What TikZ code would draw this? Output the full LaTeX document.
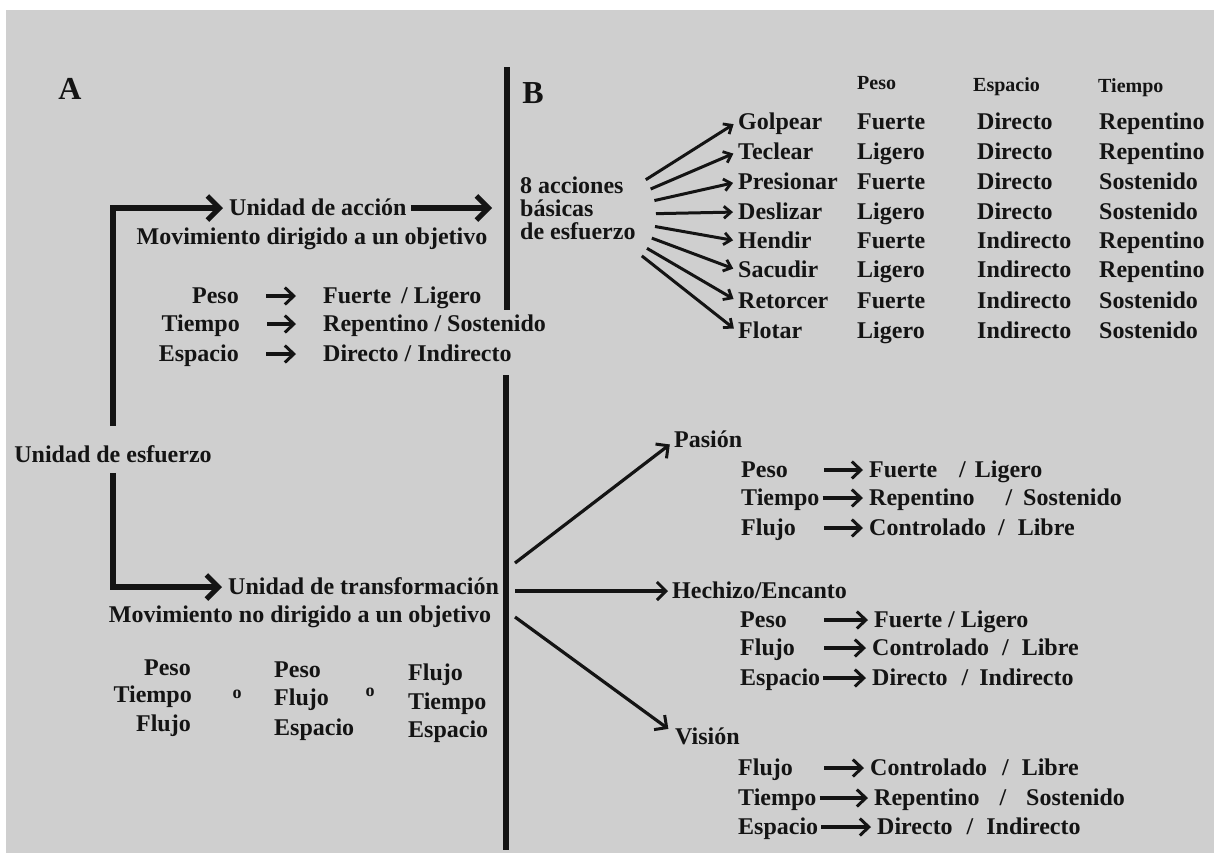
\documentclass[tikz,border=0pt]{standalone}
\usepackage{fontspec}
\setmainfont{Liberation Serif}
\usetikzlibrary{arrows.meta,calc}
\definecolor{paper}{HTML}{CFCFCF}
\definecolor{ink}{HTML}{141414}
\begin{document}
\begin{tikzpicture}[x=1pt,y=-1pt,
  lbl/.style={font=\fontsize{24}{23}\selectfont\bfseries, text=ink, inner sep=1pt, yshift=-5pt},
  hdr/.style={font=\fontsize{20}{22}\selectfont\bfseries, text=ink, inner sep=1pt, yshift=-5pt},
  letter/.style={font=\fontsize{32}{34}\selectfont\bfseries, text=ink, inner sep=0pt},
  orw/.style={font=\fontsize{18}{20}\selectfont\bfseries, text=ink, inner sep=0pt, yshift=-2pt},
  lift/.style={transform canvas={yshift=5pt}},
  bar/.style={line width=6pt, draw=ink},
  thickarr/.style={draw=ink, line width=5.5pt, -{Straight Barb[length=12pt,width=24pt,line width=5pt]}},
  fanarr/.style={draw=ink, line width=3pt, -{Straight Barb[length=7pt,width=12pt,line width=2.8pt]}, shorten >=4pt},
  branch/.style={draw=ink, line width=3.2pt, -{Straight Barb[length=9pt,width=18pt,line width=3pt]}},
  rowarr/.style={draw=ink, line width=3.2pt, -{Straight Barb[length=9pt,width=17pt,line width=3pt]}},
]
% sheet
\fill[white] (0,0) rectangle (1214,855);
\fill[paper] (6,10) rectangle (1214,853);
\useasboundingbox (0,0) rectangle (1214,855);

% dividing bars
\coordinate (barAtop) at (507,67);
\coordinate (barAbot) at (507,310);
\coordinate (barBtop) at (506,375);
\coordinate (barBbot) at (506,850);
\draw[bar] (barAtop) -- (barAbot);
\draw[bar] (barBtop) -- (barBbot);

% ---------------- part A ----------------
\node[letter] (A) at (70,89) {A};
\node[lbl, anchor=mid] (esf) at (113,455) {Unidad de esfuerzo};

\node[lbl, anchor=mid west] (accion) at (228,208) {Unidad de acción};
\node[lbl, anchor=mid] (movA) at (312,237) {Movimiento dirigido a un objetivo};

\draw[thickarr, lift, shorten <=13pt, shorten >=5pt] (esf.north) |- (accion.mid west);
\draw[thickarr, lift, shorten <=3pt, shorten >=15pt] (accion.mid east) -- (accion.mid east -| barAtop);

\node[lbl, anchor=mid east] (aL1) at (240,296) {Peso};
\node[lbl, anchor=mid east] (aL2) at (241,324) {Tiempo};
\node[lbl, anchor=mid east] (aL3) at (240,354) {Espacio};
\node[lbl, anchor=mid west] (aV1) at (322,296) {Fuerte\hspace{10pt}/\hspace{6pt}Ligero};
\node[lbl, anchor=mid west] (aV2) at (322,324) {Repentino / Sostenido};
\node[lbl, anchor=mid west] (aV3) at (322,354) {Directo / Indirecto};
\foreach \i in {1,2,3}
  \draw[rowarr, lift, shorten <=26pt, shorten >=26pt] (aL\i.mid east) -- (aV\i.mid west);

\node[lbl, anchor=mid west] (transf) at (227,587) {Unidad de transformación};
\node[lbl, anchor=mid] (movT) at (300,615) {Movimiento no dirigido a un objetivo};
\draw[thickarr, lift, shorten <=14pt, shorten >=5pt] (esf.south) |- (transf.mid west);

% three possible combinations
\node[lbl, anchor=mid east] (c1a) at (192,668) {Peso};
\node[lbl, anchor=mid east] (c1b) at (193,695) {Tiempo};
\node[lbl, anchor=mid east] (c1c) at (192,724) {Flujo};
\node[orw] (o1) at (237,692) {o};
\node[lbl, anchor=mid west] (c2a) at (273,670) {Peso};
\node[lbl, anchor=mid west] (c2b) at (273,698) {Flujo};
\node[lbl, anchor=mid west] (c2c) at (273,728) {Espacio};
\node[orw] (o2) at (370,690) {o};
\node[lbl, anchor=mid west] (c3a) at (407,673) {Flujo};
\node[lbl, anchor=mid west] (c3b) at (407,702) {Tiempo};
\node[lbl, anchor=mid west] (c3c) at (407,730) {Espacio};

% ---------------- part B ----------------
\node[letter] (B) at (533,93) {B};
\node[lbl, anchor=west, align=left] (acc8) at (519,203) {8 acciones\\básicas\\de esfuerzo};
\coordinate (fanc) at (590,220);

\node[hdr, anchor=mid west] (hP) at (856,82) {Peso};
\node[hdr, anchor=mid west] (hE) at (972,84) {Espacio};
\node[hdr, anchor=mid west] (hT) at (1097,85) {Tiempo};

\foreach \n/\y/\v/\p/\e/\t in {
  1/122/Golpear/Fuerte/Directo/Repentino,
  2/152/Teclear/Ligero/Directo/Repentino,
  3/182/Presionar/Fuerte/Directo/Sostenido,
  4/212/Deslizar/Ligero/Directo/Sostenido,
  5/241/Hendir/Fuerte/Indirecto/Repentino,
  6/270/Sacudir/Ligero/Indirecto/Repentino,
  7/301/Retorcer/Fuerte/Indirecto/Sostenido,
  8/331/Flotar/Ligero/Indirecto/Sostenido}{
  \node[lbl, anchor=mid west] (v\n) at (737,\y) {\v};
  \node[lbl, anchor=mid west] (p\n) at (856,\y) {\p};
  \node[lbl, anchor=mid west] (e\n) at (976,\y) {\e};
  \node[lbl, anchor=mid west] (t\n) at (1098,\y) {\t};
  \draw[fanarr, lift] ($(fanc)!66pt!(v\n.mid west)$) -- (v\n.mid west);
}

% three qualities of the transformation drive
\coordinate (s1) at (515,568);
\coordinate (s2) at (515,596);
\coordinate (s3) at (515,622);

\node[lbl, anchor=mid west] (pas) at (673,440) {Pasión};
\node[lbl, anchor=mid west] (hech) at (671,591) {Hechizo/Encanto};
\node[lbl, anchor=mid west] (vis) at (674,737) {Visión};
\draw[branch, lift, shorten >=4pt] (s1) -- ($(pas.mid west)+(0,2)$);
\draw[branch, lift, shorten >=3pt] (s2) -- (s2 -| hech.west);
\draw[branch, lift, shorten >=7pt] (s3) -- ($(vis.mid west)+(0,-4)$);

\coordinate (ar) at (824,0);

\node[lbl, anchor=mid west] (pL1) at (740,470) {Peso};
\node[lbl, anchor=mid west] (pL2) at (740,498) {Tiempo};
\node[lbl, anchor=mid west] (pL3) at (740,528) {Flujo};
\node[lbl, anchor=mid west] (pV1) at (868,470) {Fuerte\hspace{22pt}/\hspace{9pt}Ligero};
\node[lbl, anchor=mid west] (pV2) at (868,498) {Repentino\hspace{31pt}/\hspace{11pt}Sostenido};
\node[lbl, anchor=mid west] (pV3) at (868,528) {Controlado\hspace{12pt}/\hspace{13pt}Libre};

\node[lbl, anchor=mid west] (hL1) at (739,620) {Peso};
\node[lbl, anchor=mid west] (hL2) at (739,648) {Flujo};
\node[lbl, anchor=mid west] (hL3) at (739,678) {Espacio};
\node[lbl, anchor=mid west] (hV1) at (873,620) {Fuerte / Ligero};
\node[lbl, anchor=mid west] (hV2) at (871,648) {Controlado\hspace{13pt}/\hspace{13pt}Libre};
\node[lbl, anchor=mid west] (hV3) at (871,678) {Directo\hspace{14pt}/\hspace{11pt}Indirecto};

\node[lbl, anchor=mid west] (vL1) at (737,768) {Flujo};
\node[lbl, anchor=mid west] (vL2) at (737,798) {Tiempo};
\node[lbl, anchor=mid west] (vL3) at (737,827) {Espacio};
\node[lbl, anchor=mid west] (vV1) at (869,768) {Controlado\hspace{15pt}/\hspace{13pt}Libre};
\node[lbl, anchor=mid west] (vV2) at (873,798) {Repentino\hspace{20pt}/\hspace{20pt}Sostenido};
\node[lbl, anchor=mid west] (vV3) at (876,827) {Directo\hspace{14pt}/\hspace{13pt}Indirecto};

% short arrows: fixed start after short labels, right after long ones
\foreach \l/\v in {pL1/pV1, pL3/pV3, hL1/hV1, hL2/hV2, vL1/vV1}
  \draw[rowarr, lift, shorten >=5pt] (ar |- \l.mid east) -- (\v.mid west);
\foreach \l/\v in {pL2/pV2, hL3/hV3, vL2/vV2, vL3/vV3}
  \draw[rowarr, lift, shorten <=2pt, shorten >=5pt] (\l.mid east) -- (\v.mid west);
\end{tikzpicture}
\end{document}
